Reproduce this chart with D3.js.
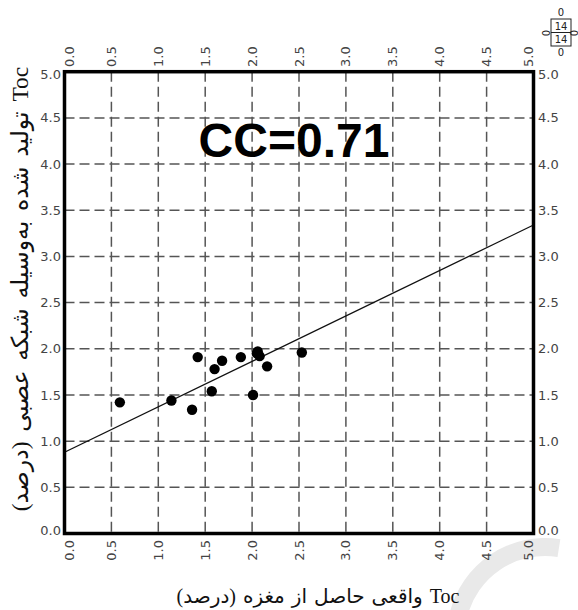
<!DOCTYPE html>
<html><head><meta charset="utf-8">
<script src="https://cdn.jsdelivr.net/npm/d3@7"></script>
<style>body{margin:0;background:#fff}svg{display:block}</style>
</head><body><svg id="c" width="578" height="610"></svg>
<script>
// ---- data ----
const actualToc    = [0.59, 1.14, 1.36, 1.42, 1.57, 1.60, 1.68, 1.88, 2.01, 2.05, 2.08, 2.16, 2.53, 2.06];
const predictedToc = [1.42, 1.44, 1.34, 1.91, 1.54, 1.78, 1.87, 1.91, 1.50, 1.95, 1.92, 1.81, 1.96, 1.97];
const tickValues = [0, 0.5, 1, 1.5, 2, 2.5, 3, 3.5, 4, 4.5, 5];
const fitLine = [0.88, 0.492];          // intercept, slope
const ccLabel = "CC=0.71";
const xTitle = "Toc واقعی حاصل از مغزه (درصد)";
const yTitle = "Toc تولید شده به\u200Cوسیله شبکه عصبی (درصد)";

const svg = d3.select("#c");
const L = 64.5, R = 533.5, T = 71.7, B = 533.5;
const x = d3.scaleLinear().domain([0, 5]).range([L, R]);
const y = d3.scaleLinear().domain([0, 5]).range([B, T]);
const fmt = d3.format(".1f");

// watermark arc
svg.append("path")
  .attr("transform", "translate(545,636)")
  .attr("d", d3.arc().innerRadius(80).outerRadius(98).startAngle(-Math.PI*0.9).endAngle(Math.PI*0.05)())
  .attr("fill", "#e9e9e9");

// grid
const grid = svg.append("g").attr("stroke", "#555").attr("stroke-width", 1.5).attr("stroke-dasharray", "10,5");
grid.selectAll("line.v").data(tickValues.slice(1, -1)).join("line").attr("class","v")
  .attr("x1", d => x(d)).attr("x2", d => x(d)).attr("y1", T).attr("y2", B);
grid.selectAll("line.h").data(tickValues.slice(1, -1)).join("line").attr("class","h")
  .attr("y1", d => y(d)).attr("y2", d => y(d)).attr("x1", L).attr("x2", R);

// tick labels
const lab = svg.append("g").attr("font-family", "DejaVu Sans, Verdana, sans-serif")
  .attr("font-size", 13).attr("fill", "#444");
const shiftX = d => d === 0 ? 5 : d === 5 ? -5 : 0;
const shiftY = d => d === 0 ? -3 : d === 5 ? 3 : 0;
lab.selectAll("text.l").data(tickValues).join("text").attr("class","l")
  .attr("x", 61).attr("y", d => y(d) + shiftY(d)).attr("dy", "0.35em")
  .attr("text-anchor", "end").text(fmt);
lab.selectAll("text.r").data(tickValues).join("text").attr("class","r")
  .attr("x", 538).attr("y", d => y(d) + shiftY(d)).attr("dy", "0.35em")
  .attr("text-anchor", "start").text(fmt);
lab.selectAll("text.t").data(tickValues).join("text").attr("class","t")
  .attr("transform", d => `translate(${x(d) + shiftX(d)},67) rotate(-90)`)
  .attr("dy", "0.35em").attr("text-anchor", "start").text(fmt);
lab.selectAll("text.b").data(tickValues).join("text").attr("class","b")
  .attr("transform", d => `translate(${x(d) + shiftX(d)},540) rotate(-90)`)
  .attr("dy", "0.35em").attr("text-anchor", "end").text(fmt);

// fit line
svg.append("line")
  .attr("x1", x(0)).attr("y1", y(fitLine[0]))
  .attr("x2", x(5)).attr("y2", y(fitLine[0] + fitLine[1] * 5))
  .attr("stroke", "#111").attr("stroke-width", 1.3);

// points
svg.append("g").selectAll("circle").data(actualToc).join("circle")
  .attr("cx", d => x(d)).attr("cy", (d, i) => y(predictedToc[i])).attr("r", 5.2).attr("fill", "#000");

// frame
svg.append("rect").attr("x", L).attr("y", T).attr("width", R - L).attr("height", B - T)
  .attr("fill", "none").attr("stroke", "#000").attr("stroke-width", 3.5);

// CC label
svg.append("text").attr("x", 294).attr("y", 157).attr("text-anchor", "middle")
  .attr("font-family", "Liberation Sans, Arial, sans-serif").attr("font-weight", "bold")
  .attr("font-size", 48).attr("fill", "#000").text(ccLabel);

// x title
svg.append("text").attr("x", 318).attr("y", 603).attr("text-anchor", "middle")
  .attr("direction", "rtl").attr("word-spacing", 2)
  .attr("font-family", "Liberation Serif, DejaVu Sans, serif").attr("font-size", 20)
  .attr("fill", "#111").text(xTitle);

// y title
svg.append("text").attr("transform", "translate(20,289) rotate(-90)")
  .attr("direction", "rtl").attr("text-anchor", "middle").attr("dy", "0.35em")
  .attr("font-family", "Liberation Serif, DejaVu Sans, serif").attr("font-size", 23.5)
  .attr("word-spacing", 4)
  .attr("fill", "#111").text(yTitle);

// count box (top right)
const n = actualToc.length;
const bx = svg.append("g").attr("font-family", "DejaVu Sans, sans-serif").attr("font-size", 10).attr("fill", "#222");
bx.append("rect").attr("x", 551).attr("y", 19).attr("width", 20).attr("height", 27)
  .attr("fill", "none").attr("stroke", "#222").attr("stroke-width", 1);
bx.append("line").attr("x1", 551).attr("x2", 571).attr("y1", 32.5).attr("y2", 32.5).attr("stroke", "#222");
bx.append("text").attr("x", 561).attr("y", 30).attr("text-anchor", "middle").text(n);
bx.append("text").attr("x", 561).attr("y", 43).attr("text-anchor", "middle").text(n);
bx.append("text").attr("x", 561).attr("y", 16).attr("text-anchor", "middle").text("0");
bx.append("text").attr("x", 561).attr("y", 56).attr("text-anchor", "middle").text("0");
bx.append("text").attr("transform", "translate(546,33) rotate(-90)").attr("text-anchor", "middle").attr("dy", "0.35em").text("0");
bx.append("text").attr("transform", "translate(574,33) rotate(-90)").attr("text-anchor", "middle").attr("dy", "0.35em").text("0");
</script></body></html>
